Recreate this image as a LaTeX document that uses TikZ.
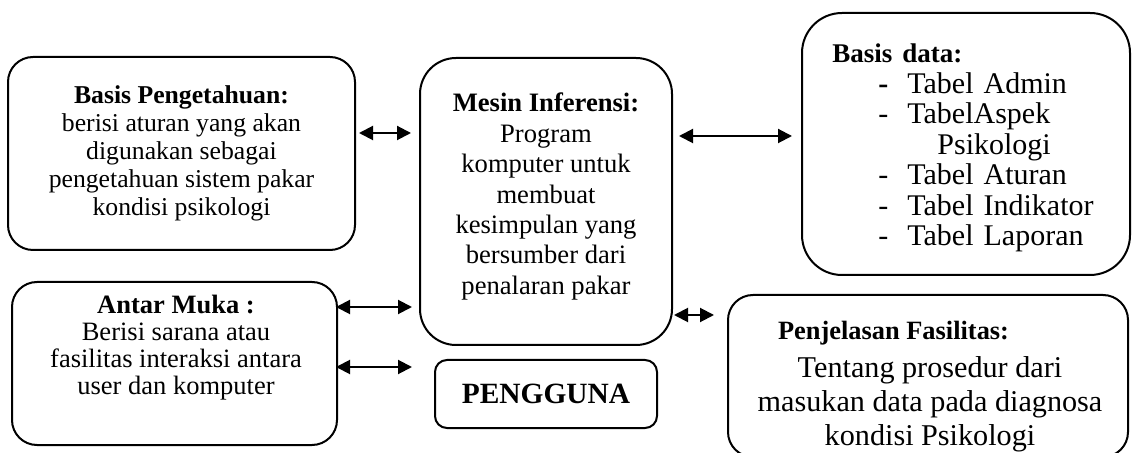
\documentclass[tikz,border=0pt]{standalone}
\usepackage{fontspec}
\setmainfont{Liberation Serif}
\usetikzlibrary{positioning,arrows.meta}
\newcommand{\ukuran}[2]{\fontsize{#1}{#2}\selectfont}
\newcommand{\butir}[1]{\hspace*{23pt}\makebox[14.5pt][l]{-}#1}

\begin{document}
\begin{tikzpicture}[x=0.5pt,y=-0.5pt,
  kotak/.style={draw,line width=1pt,inner sep=0pt},
  teks/.style={align=center,inner sep=0pt},
  dua/.style={{Triangle[length=7pt,width=7pt]}-{Triangle[length=7pt,width=7pt]},line width=1pt}]
\useasboundingbox (0,0) rectangle (1133,453);
% kotak
\draw(181.5,153.5) node[kotak,rounded corners=12.5pt,minimum width=173.5pt,minimum height=96.5pt] (bp) {};
\draw(546,201.5) node[kotak,rounded corners=18pt,minimum width=126pt,minimum height=143.5pt] (mesin) {};
\draw(966,144) node[kotak,rounded corners=20pt,minimum width=164pt,minimum height=131pt] (bd) {};
\draw(174.5,363.5) node[kotak,rounded corners=12.5pt,minimum width=162.5pt,minimum height=81.5pt] (am) {};
\draw(546,394) node[kotak,rounded corners=6pt,minimum width=111pt,minimum height=34pt,font=\ukuran{14.7}{16}\bfseries] (pengguna) {PENGGUNA};
\draw(928,376) node[kotak,rounded corners=12.5pt,minimum width=200pt,minimum height=81pt] (pf) {};
% isi
\draw(181.5,153) node[teks,font=\ukuran{12.85}{14}] (bpisi) {\textbf{Basis Pengetahuan:}\\berisi aturan yang akan\\digunakan sebagai\\pengetahuan sistem pakar\\kondisi psikologi};
\draw(546,196.5) node[teks,font=\ukuran{13.3}{15.2}] (mesinisi) {\textbf{Mesin Inferensi:}\\Program\\komputer untuk\\membuat\\kesimpulan yang\\bersumber dari\\penalaran pakar};
\draw(832,148) node[teks,anchor=west,align=left,text width=145pt,font=\ukuran{15}{15.25}] (bdisi) {{\ukuran{13.5}{15.25}\textbf{Basis data:}}\\
  \hspace*{23pt}\makebox[14.5pt][l]{\textbf{-}}Tabel Admin\\\butir{TabelAspek}\\\hspace*{52.5pt}Psikologi\\
  \butir{Tabel Aturan}\\\butir{Tabel Indikator}\\\butir{Tabel Laporan}};
\draw(176,347.5) node[teks,font=\ukuran{13.25}{13.4}] (amisi) {\textbf{Antar Muka :}\\Berisi sarana atau\\fasilitas interaksi antara\\user dan komputer};
\draw(930,321) node[teks,anchor=north,font=\ukuran{15.1}{17}] (pfisi) {\makebox[152pt][l]{\ukuran{13.2}{15}\textbf{Penjelasan Fasilitas:}}\\[2pt]Tentang prosedur dari\\masukan data pada diagnosa\\kondisi Psikologi};
% panah
\draw[dua,shorten <=1.5pt,shorten >=4pt] (bp.east |- 0,133) -- (mesin.west |- 0,133);
\draw[dua,shorten <=3pt,shorten >=4.5pt] (mesin.east |- 0,136) -- (bd.west |- 0,136);
\draw[dua,shorten <=0.5pt,shorten >=6.5pt] (mesin.east |- 0,315) -- (pf.west |- 0,315);
\draw[dua,shorten <=-1pt,shorten >=3.5pt] (am.east |- 0,307) -- (mesin.west |- 0,307);
\draw[dua,shorten <=-1pt,shorten >=11pt] (am.east |- 0,367) -- (pengguna.west |- 0,367);
\end{tikzpicture}
\end{document}
